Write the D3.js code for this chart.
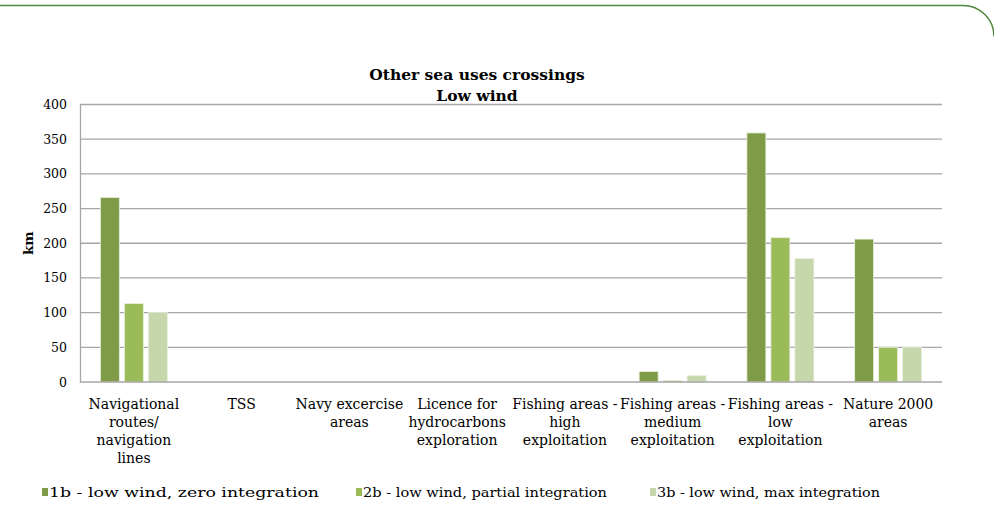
<!DOCTYPE html>
<html><head><meta charset="utf-8">
<script src="https://cdn.jsdelivr.net/npm/d3@7"></script>
<style>body{margin:0;background:#fff}svg{display:block}text{font-family:"DejaVu Serif","Liberation Serif",serif;fill:#000}</style>
</head><body><svg id="c" width="994" height="505"></svg>
<script>
const categories = ["Navigational\nroutes/\nnavigation\nlines","TSS","Navy excercise\nareas","Licence for\nhydrocarbons\nexploration","Fishing areas -\nhigh\nexploitation","Fishing areas -\nmedium\nexploitation","Fishing areas -\nlow\nexploitation","Nature 2000\nareas"];
const seriesNames = ["1b - low wind, zero integration","2b - low wind, partial integration","3b - low wind, max integration"];
const s1b = [266,0,0,0,0,15,359,206];
const s2b = [113,0,0,0,0,2,208,50];
const s3b = [100,0,0,0,0,9,178,50];
const yTicks = [0,50,100,150,200,250,300,350,400];
const colors = ["#7f9b48","#9bbb59","#c7d7ac"];
const series = [s1b,s2b,s3b];

(function(){
const svg = d3.select("#c");
svg.append("path").attr("d","M0,5.5 H963 A31,31 0 0 1 994,36.5").attr("fill","none").attr("stroke","#4f8a3f").attr("stroke-width",1.5);

const pl=80, pr=942, pt=104.5, pb=382;
const x = d3.scaleBand().domain(categories.map((d,i)=>i)).range([pl,pr]).paddingInner(0).paddingOuter(0);
const x1 = d3.scaleBand().domain([0,1,2]).range([0,x.bandwidth()]).paddingInner(0.21).paddingOuter(0.85);
const y = d3.scaleLinear().domain([0,400]).range([pb,pt]);

svg.append("g").selectAll("line").data(yTicks.filter(d=>d>0)).join("line")
  .attr("x1",pl).attr("x2",pr).attr("y1",d=>y(d)).attr("y2",d=>y(d))
  .attr("stroke","#a6a6a6").attr("stroke-width",1.3);

const ya = svg.append("g").attr("transform",`translate(${pl},0)`).call(d3.axisLeft(y).tickValues(yTicks).tickSize(0).tickPadding(13));
ya.select(".domain").attr("stroke","#a6a6a6").attr("stroke-width",1.3);
ya.selectAll("text").style("font-family","DejaVu Serif").style("font-size","12.5px").attr("fill","#000");

series.forEach((s,si)=>{
  svg.append("g").selectAll("rect").data(s).join("rect")
   .attr("x",(d,i)=>x(i)+x1(si)).attr("width",x1.bandwidth())
   .attr("y",d=>y(d)).attr("height",d=>pb-y(d))
   .attr("fill",colors[si]).attr("stroke","#e8efdc").attr("stroke-width",0.8);
});

svg.append("line").attr("x1",pl).attr("x2",pr).attr("y1",pb).attr("y2",pb).attr("stroke","#a6a6a6").attr("stroke-width",1.5);

const xl = svg.append("g");
categories.forEach((c,i)=>{
  const t = xl.append("text").attr("text-anchor","middle").style("font-size","14px");
  c.split("\n").forEach((ln,j)=>{
    t.append("tspan").attr("x",x(i)+x.bandwidth()/2).attr("y",409+j*18).text(ln);
  });
});

svg.append("text").attr("transform",`translate(33,${(pt+pb)/2}) rotate(-90)`).attr("text-anchor","middle")
  .style("font-size","13.5px").style("font-weight","bold").text("km");

svg.append("text").attr("x",477).attr("y",80).attr("text-anchor","middle").style("font-size","15.5px").style("font-weight","bold").text("Other sea uses crossings");
svg.append("text").attr("x",477).attr("y",101).attr("text-anchor","middle").style("font-size","15.5px").style("font-weight","bold").text("Low wind");

const legX = [42,356,650];
const legW = [270,244,223];
seriesNames.forEach((n,i)=>{
  svg.append("rect").attr("x",legX[i]).attr("y",488).attr("width",6).attr("height",8).attr("fill",colors[i]);
  svg.append("text").attr("x",legX[i]+7).attr("y",497).style("font-size","13.5px").attr("textLength",legW[i]).attr("lengthAdjust","spacingAndGlyphs").text(n);
});
})();
</script></body></html>
